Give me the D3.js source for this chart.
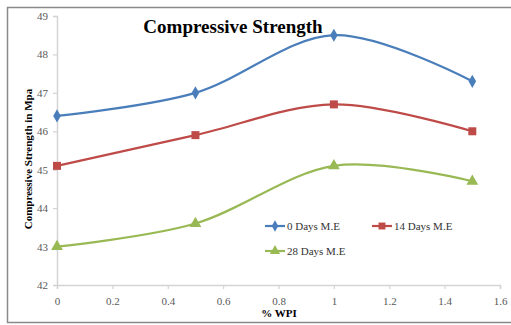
<!DOCTYPE html>
<html>
<head>
<meta charset="utf-8">
<script src="https://cdn.jsdelivr.net/npm/d3@7"></script>
<style>
  html, body { margin: 0; padding: 0; background: #fff; }
  svg { display: block; }
</style>
</head>
<body>
<svg id="chart" width="511" height="325"></svg>
<script>
// Compressive strength (MPa) vs % WPI for three curing ages
const wpi = [0, 0.5, 1, 1.5];
const days0 = [46.4, 47.0, 48.5, 47.3];
const days14 = [45.1, 45.9, 46.7, 46.0];
const days28 = [43.0, 43.6, 45.1, 44.7];
const seriesNames = ["0 Days M.E", "14 Days M.E", "28 Days M.E"];
const xTicks = [0, 0.2, 0.4, 0.6, 0.8, 1, 1.2, 1.4, 1.6];
const yTicks = [42, 43, 44, 45, 46, 47, 48, 49];

const colors = ["#4a7ebb", "#be4b48", "#98b954"];
const markers = [d3.symbolDiamond, d3.symbolSquare, d3.symbolTriangle];
const markerSizes = [50, 64, 60];

const svg = d3.select("#chart");
const serif = "'Liberation Serif', 'Times New Roman', serif";

// outer frame (top, left, bottom edges)
svg.append("path")
  .attr("d", "M511,7.5 H7.5 V322.5 H511")
  .attr("fill", "none").attr("stroke", "#8a8a8a").attr("stroke-width", 1.5);

const x = d3.scaleLinear().domain([0, 1.6]).range([57, 500]);
const y = d3.scaleLinear().domain([42, 49]).range([285, 16]);

const axisColor = "#d4d4d4";
const labelColor = "#595959";

// y axis
const gy = svg.append("g").attr("transform", `translate(${x(0)},0)`)
  .call(d3.axisLeft(y).tickValues(yTicks).tickSize(4).tickPadding(5).tickFormat(d3.format("d")));
gy.select(".domain").attr("stroke", axisColor).attr("stroke-width", 1.5);
gy.selectAll(".tick line").attr("stroke", axisColor).attr("stroke-width", 1.2);
gy.selectAll(".tick text").attr("fill", labelColor).attr("font-family", serif).attr("font-size", 11);

// x axis
const gx = svg.append("g").attr("transform", `translate(0,${y(42)})`)
  .call(d3.axisBottom(x).tickValues(xTicks).tickSize(4).tickPadding(8).tickFormat(d => d3.format("")(d)));
gx.select(".domain").attr("stroke", axisColor).attr("stroke-width", 1.5);
gx.selectAll(".tick line").attr("stroke", axisColor).attr("stroke-width", 1.2);
gx.selectAll(".tick text").attr("fill", labelColor).attr("font-family", serif).attr("font-size", 11);

// series
const allSeries = [days0, days14, days28];
const line = d3.line()
  .x((d, i) => x(wpi[i]))
  .y(d => y(d))
  .curve(d3.curveCatmullRom.alpha(0));

allSeries.forEach((vals, s) => {
  svg.append("path")
    .datum(vals)
    .attr("d", line)
    .attr("fill", "none")
    .attr("stroke", colors[s])
    .attr("stroke-width", 2.2);
  svg.selectAll(null)
    .data(vals)
    .enter().append("path")
    .attr("d", d3.symbol().type(markers[s]).size(markerSizes[s]))
    .attr("transform", (d, i) => `translate(${x(wpi[i])},${y(d)})`)
    .attr("fill", colors[s]);
});

// legend
const legendPos = [[265, 226], [372, 226], [265, 251]];
seriesNames.forEach((name, s) => {
  const [lx, ly] = legendPos[s];
  const g = svg.append("g").attr("transform", `translate(${lx},${ly})`);
  g.append("line").attr("x1", 0).attr("x2", 20).attr("y1", 0).attr("y2", 0)
    .attr("stroke", colors[s]).attr("stroke-width", 2.2);
  g.append("path").attr("d", d3.symbol().type(markers[s]).size(markerSizes[s] * 0.75))
    .attr("transform", "translate(10,0)").attr("fill", colors[s]);
  g.append("text").attr("x", 22).attr("y", 4)
    .attr("font-family", serif).attr("font-size", 11).attr("fill", "#333")
    .text(name);
});

// title
svg.append("text")
  .attr("x", 233).attr("y", 33)
  .attr("text-anchor", "middle")
  .attr("font-family", serif).attr("font-weight", "bold").attr("font-size", 19)
  .attr("fill", "#000")
  .text("Compressive Strength");

// axis titles
svg.append("text")
  .attr("transform", "translate(32,159) rotate(-90)")
  .attr("text-anchor", "middle")
  .attr("font-family", serif).attr("font-weight", "bold").attr("font-size", 11)
  .attr("fill", "#000")
  .text("Compressive Strength in Mpa");

svg.append("text")
  .attr("x", 279).attr("y", 317)
  .attr("text-anchor", "middle")
  .attr("font-family", serif).attr("font-weight", "bold").attr("font-size", 11)
  .attr("fill", "#000")
  .text("% WPI");
</script>
</body>
</html>
